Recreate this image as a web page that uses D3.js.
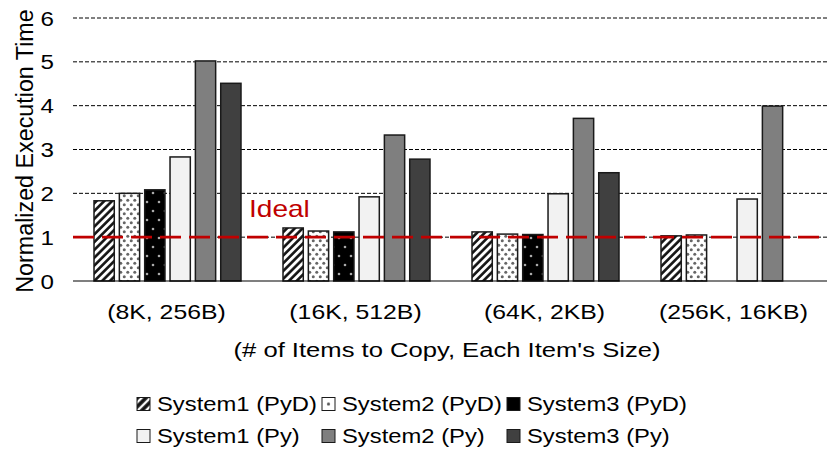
<!DOCTYPE html>
<html>
<head>
<meta charset="utf-8">
<script src="https://cdn.jsdelivr.net/npm/d3@7/dist/d3.min.js"></script>
<style>
  html, body { margin: 0; padding: 0; background: #fff; }
  svg text { font-family: "Liberation Sans", Arial, sans-serif; fill: #000; }
</style>
</head>
<body>
<svg id="chart" width="827" height="458"></svg>
<script>
// Workload configurations on the x axis
const categories = ["(8K, 256B)", "(16K, 512B)", "(64K, 2KB)", "(256K, 16KB)"];

// Series names (legend order)
const seriesNames = ["System1 (PyD)", "System2 (PyD)", "System3 (PyD)",
                     "System1 (Py)", "System2 (Py)", "System3 (Py)"];

// Normalized execution time per configuration (null = not measured)
const system1PyD = [1.83, 1.21, 1.12, 1.03];
const system2PyD = [2.00, 1.14, 1.07, 1.05];
const system3PyD = [2.08, 1.12, 1.06, null];
const system1Py  = [2.83, 1.92, 1.99, 1.87];
const system2Py  = [5.02, 3.33, 3.71, 3.99];
const system3Py  = [4.51, 2.78, 2.47, null];

const yTicks = [0, 1, 2, 3, 4, 5, 6];
const idealValue = 1;

const seriesValues = [system1PyD, system2PyD, system3PyD, system1Py, system2Py, system3Py];
const seriesFills = ["url(#hatch)", "url(#dotsLight)", "url(#dotsDark)", "#f2f2f2", "#7f7f7f", "#404040"];
const legendFills = ["url(#hatchSwatch)", "url(#dotSwatch)", "#000", "#f2f2f2", "#7f7f7f", "#404040"];

const svg = d3.select("#chart");
const stretch = 1.22; // horizontal text stretch

// --- patterns ---
const defs = svg.append("defs");
const hatch = defs.append("pattern").attr("id", "hatch")
  .attr("patternUnits", "userSpaceOnUse").attr("width", 5.5).attr("height", 5.5)
  .attr("patternTransform", "rotate(45)");
hatch.append("rect").attr("width", 5.5).attr("height", 5.5).attr("fill", "#fff");
hatch.append("line").attr("x1", 1.4).attr("x2", 1.4).attr("y1", 0).attr("y2", 5.5)
  .attr("stroke", "#111").attr("stroke-width", 2.6);

const hs = defs.append("pattern").attr("id", "hatchSwatch")
  .attr("patternUnits", "userSpaceOnUse").attr("width", 6).attr("height", 6)
  .attr("patternTransform", "rotate(45)");
hs.append("rect").attr("width", 6).attr("height", 6).attr("fill", "#fff");
hs.append("line").attr("x1", 2).attr("x2", 2).attr("y1", 0).attr("y2", 6)
  .attr("stroke", "#111").attr("stroke-width", 3.6);

const dl = defs.append("pattern").attr("id", "dotsLight")
  .attr("patternUnits", "userSpaceOnUse").attr("width", 7).attr("height", 9);
dl.append("rect").attr("width", 7).attr("height", 9).attr("fill", "#fff");
dl.append("circle").attr("cx", 1.75).attr("cy", 2.25).attr("r", 1.5).attr("fill", "#666");
dl.append("circle").attr("cx", 5.25).attr("cy", 6.75).attr("r", 1.5).attr("fill", "#666");

const ds = defs.append("pattern").attr("id", "dotSwatch")
  .attr("patternUnits", "objectBoundingBox").attr("patternContentUnits", "objectBoundingBox")
  .attr("width", 1).attr("height", 1);
ds.append("rect").attr("width", 1).attr("height", 1).attr("fill", "#fff");
ds.append("circle").attr("cx", 0.5).attr("cy", 0.5).attr("r", 0.12).attr("fill", "#555");

const dd = defs.append("pattern").attr("id", "dotsDark")
  .attr("patternUnits", "userSpaceOnUse").attr("width", 12).attr("height", 18);
dd.append("rect").attr("width", 12).attr("height", 18).attr("fill", "#000");
dd.append("circle").attr("cx", 3).attr("cy", 4).attr("r", 1.3).attr("fill", "#aaa");
dd.append("circle").attr("cx", 9).attr("cy", 13).attr("r", 1.3).attr("fill", "#aaa");

// --- scales ---
const x = d3.scaleBand().domain(categories).range([73, 829]);
const xs = d3.scaleBand().domain(seriesNames).range([21, 168]).paddingInner(0.2);
const y = d3.scaleLinear().domain([0, 6]).range([281, 18]);

// --- gridlines ---
svg.append("g").selectAll("line").data(yTicks.filter(t => t > 0)).join("line")
  .attr("x1", 73).attr("x2", 827)
  .attr("y1", d => y(d)).attr("y2", d => y(d))
  .attr("stroke", "#000").attr("stroke-width", 1).attr("stroke-dasharray", "4,2");

// --- y tick labels ---
svg.append("g").selectAll("text").data(yTicks).join("text")
  .attr("transform", d => `translate(54,${y(d) + 7.5}) scale(1.15,1)`)
  .attr("text-anchor", "end").attr("font-size", 21).text(d => d);

// --- bars ---
const flat = [];
seriesNames.forEach((s, i) => {
  categories.forEach((c, j) => {
    const v = seriesValues[i][j];
    if (v != null) flat.push({ s, c, v, fill: seriesFills[i] });
  });
});
svg.append("g").selectAll("rect").data(flat).join("rect")
  .attr("x", d => x(d.c) + xs(d.s))
  .attr("width", xs.bandwidth())
  .attr("y", d => y(d.v))
  .attr("height", d => y(0) - y(d.v))
  .attr("fill", d => d.fill)
  .attr("stroke", "#1a1a1a").attr("stroke-width", 1.5);

// --- x axis baseline ---
svg.append("line").attr("x1", 73).attr("x2", 827).attr("y1", y(0)).attr("y2", y(0))
  .attr("stroke", "#000").attr("stroke-width", 1.2);

// --- ideal line ---
svg.append("line").attr("x1", 73).attr("x2", 827)
  .attr("y1", y(idealValue)).attr("y2", y(idealValue))
  .attr("stroke", "#c00000").attr("stroke-width", 2.6).attr("stroke-dasharray", "21,8");
svg.append("text").attr("transform", `translate(249,${y(idealValue) - 20}) scale(${stretch},1)`)
  .attr("font-size", 23).style("fill", "#c00000").text("Ideal");

// --- x tick labels ---
svg.append("g").selectAll("text").data(categories).join("text")
  .attr("transform", d => `translate(${x(d) + x.bandwidth() / 2 - 1},319) scale(1.24,1)`)
  .attr("text-anchor", "middle").attr("font-size", 20).text(d => d);

// --- axis titles ---
svg.append("text").attr("transform", `translate(447,357) scale(${stretch},1)`)
  .attr("text-anchor", "middle").attr("font-size", 21)
  .text("(# of Items to Copy, Each Item's Size)");
svg.append("text").attr("transform", `translate(33,151) rotate(-90) scale(1,1.05)`)
  .attr("text-anchor", "middle").attr("font-size", 23.3)
  .text("Normalized Execution Time");

// --- legend ---
const legendCols = [137, 322, 507];
const legendRows = [404, 436];
const legend = svg.append("g").selectAll("g").data(seriesNames).join("g")
  .attr("transform", (d, i) => `translate(${legendCols[i % 3]},${legendRows[Math.floor(i / 3)]})`);
legend.append("rect").attr("x", 0).attr("y", -6.5).attr("width", 13).attr("height", 13)
  .attr("fill", (d, i) => legendFills[i]).attr("stroke", "#1a1a1a").attr("stroke-width", 1);
legend.append("text").attr("transform", `translate(20,7) scale(${stretch},1)`)
  .attr("font-size", 19.5).text(d => d);
</script>
</body>
</html>
